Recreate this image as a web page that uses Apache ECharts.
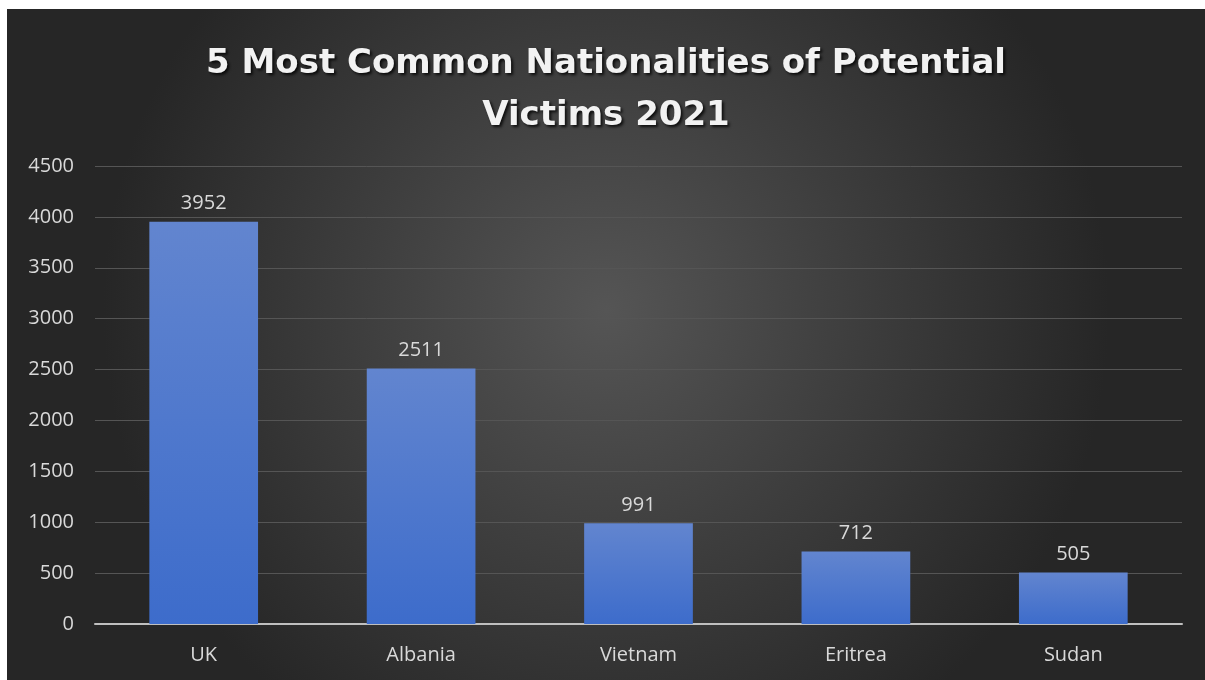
<!DOCTYPE html>
<html><head><meta charset="utf-8">
<script src="https://cdn.jsdelivr.net/npm/echarts@6/dist/echarts.min.js"></script>
<style>html,body{margin:0;padding:0;background:#fff;width:1205px;height:680px;overflow:hidden}
#c{position:absolute;left:7px;top:9px;width:1198px;height:671px}</style>
</head><body><div id="c"></div>
<script>
const titleText = '5 Most Common Nationalities of Potential\nVictims 2021';
const categories = ['UK', 'Albania', 'Vietnam', 'Eritrea', 'Sudan'];
const values = [3952, 2511, 991, 712, 505];
const yTicks = [0, 500, 1000, 1500, 2000, 2500, 3000, 3500, 4000, 4500];

const chart = echarts.init(document.getElementById('c'), null, {renderer: 'canvas'});
chart.setOption({
  backgroundColor: {type: 'radial', x: 0.5, y: 0.45, r: 0.75,
    colorStops: [{offset: 0, color: '#555555'}, {offset: 1, color: '#262626'}]},
  title: {
    text: titleText, left: 'center', top: 24,
    textStyle: {color: '#f2f2f2', fontFamily: 'DejaVu Sans', fontWeight: 'bold', fontSize: 34,
      lineHeight: 52, textShadowColor: 'rgba(0,0,0,0.8)', textShadowBlur: 3, textShadowOffsetX: 2, textShadowOffsetY: 2}
  },
  grid: {left: 88, right: 23, top: 157, bottom: 56, containLabel: false},
  xAxis: {
    type: 'category', data: categories,
    axisLine: {lineStyle: {color: '#bfbfbf', width: 2}},
    axisTick: {show: false},
    axisLabel: {color: '#d9d9d9', fontSize: 20, fontFamily: 'Open Sans', margin: 21}
  },
  yAxis: {
    type: 'value', min: yTicks[0], max: yTicks[yTicks.length - 1], interval: 500,
    axisLine: {show: false}, axisTick: {show: false},
    splitLine: {lineStyle: {color: '#555555', width: 1}},
    axisLabel: {color: '#d9d9d9', fontSize: 20, fontFamily: 'Open Sans', margin: 21,
      formatter: v => String(v)}
  },
  series: [{
    type: 'bar', data: values, barWidth: '50%',
    itemStyle: {color: {type: 'linear', x: 0, y: 0, x2: 0, y2: 1,
      colorStops: [{offset: 0, color: '#6285cf'}, {offset: 1, color: '#3d6ccb'}]}},
    label: {show: true, position: 'top', distance: 8, color: '#d9d9d9', fontSize: 20, fontFamily: 'Open Sans'}
  }]
});
</script></body></html>
